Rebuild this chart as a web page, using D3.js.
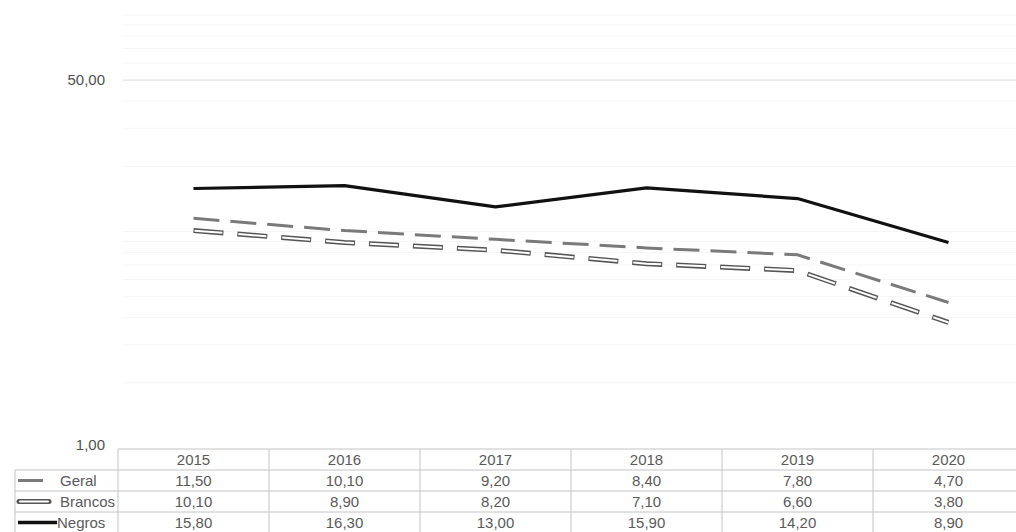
<!DOCTYPE html>
<html>
<head>
<meta charset="utf-8">
<script src="https://cdn.jsdelivr.net/npm/d3@7"></script>
<style>
  body { margin: 0; background: #fff; }
  svg { display: block; font-family: "Liberation Sans", Arial, sans-serif; }
</style>
</head>
<body>
<svg id="chart" width="1016" height="532"></svg>
<script>
const years = ["2015", "2016", "2017", "2018", "2019", "2020"];
const geral = [11.5, 10.1, 9.2, 8.4, 7.8, 4.7];
const brancos = [10.1, 8.9, 8.2, 7.1, 6.6, 3.8];
const negros = [15.8, 16.3, 13.0, 15.9, 14.2, 8.9];
const yTicks = [1, 50];

const series = [
  { name: "Geral", values: geral, type: "dash" },
  { name: "Brancos", values: brancos, type: "double" },
  { name: "Negros", values: negros, type: "solid" }
];

const svg = d3.select("#chart");
const width = 1016;
const fontSize = 15;
const textColor = "#5a5a5a";

const x = d3.scaleBand().domain(years).range([118, 1024]);
const y = d3.scaleLog().domain([1, 100]).range([448, 15]);

const fmt = v => d3.format(".2f")(v).replace(".", ",");

// very faint minor gridlines
const minor = [];
[1, 10].forEach(dec => { for (let k = 2; k <= 10; k++) minor.push(k * dec); });
svg.append("g")
  .selectAll("line")
  .data(minor.filter(v => v !== 50))
  .join("line")
  .attr("x1", 123).attr("x2", width)
  .attr("y1", d => y(d)).attr("y2", d => y(d))
  .attr("stroke", "#f6f6f6")
  .attr("stroke-width", 1);

// main gridline + labels
svg.append("g")
  .selectAll("line")
  .data(yTicks.filter(v => v !== 1))
  .join("line")
  .attr("x1", 123).attr("x2", width)
  .attr("y1", d => y(d)).attr("y2", d => y(d))
  .attr("stroke", "#e2e2e2")
  .attr("stroke-width", 1.2);

svg.append("g")
  .selectAll("text")
  .data(yTicks)
  .join("text")
  .attr("x", 105)
  .attr("y", d => y(d) - (d === 1 ? 3 : 0))
  .attr("dy", "0.35em")
  .attr("text-anchor", "end")
  .attr("font-size", fontSize)
  .attr("fill", "#505050")
  .text(fmt);

// lines
const line = d3.line()
  .x((d, i) => x(years[i]) + x.bandwidth() / 2)
  .y(d => y(d));

series.forEach(s => {
  if (s.type === "solid") {
    svg.append("path").attr("d", line(s.values))
      .attr("fill", "none").attr("stroke", "#111").attr("stroke-width", 3.2)
      .attr("stroke-linejoin", "round");
  } else if (s.type === "dash") {
    svg.append("path").attr("d", line(s.values))
      .attr("fill", "none").attr("stroke", "#7a7a7a").attr("stroke-width", 3)
      .attr("stroke-dasharray", "26 11");
  } else {
    svg.append("path").attr("d", line(s.values))
      .attr("fill", "none").attr("stroke", "#555").attr("stroke-width", 5)
      .attr("stroke-dasharray", "30 14");
    svg.append("path").attr("d", line(s.values))
      .attr("fill", "none").attr("stroke", "#fff").attr("stroke-width", 2)
      .attr("stroke-dasharray", "28 16").attr("stroke-dashoffset", -1);
  }
});

// data table
const tableTop = 449, headH = 21, rowH = 21, left = 15;
const tbl = svg.append("g");
const border = "#c4c4c4";
const tblRight = x.range()[1];

tbl.append("line").attr("x1", 118).attr("x2", tblRight)
  .attr("y1", tableTop).attr("y2", tableTop).attr("stroke", border);
tbl.selectAll(".yr")
  .data(years)
  .join("text")
  .attr("x", d => x(d) + x.bandwidth() / 2)
  .attr("y", tableTop + headH / 2)
  .attr("dy", "0.35em")
  .attr("text-anchor", "middle")
  .attr("font-size", fontSize)
  .attr("fill", textColor)
  .text(d => d);

series.forEach((s, i) => {
  const top = tableTop + headH + i * rowH;
  tbl.append("line").attr("x1", left).attr("x2", tblRight)
    .attr("y1", top).attr("y2", top).attr("stroke", border);
  tbl.selectAll(".v" + i)
    .data(s.values)
    .join("text")
    .attr("x", (d, j) => x(years[j]) + x.bandwidth() / 2)
    .attr("y", top + rowH / 2)
    .attr("dy", "0.35em")
    .attr("text-anchor", "middle")
    .attr("font-size", fontSize)
    .attr("fill", textColor)
    .text(fmt);

  const cy = top + rowH / 2;
  // legend key
  if (s.type === "dash") {
    tbl.append("line").attr("x1", 18).attr("x2", 43).attr("y1", cy).attr("y2", cy)
      .attr("stroke", "#7a7a7a").attr("stroke-width", 3);
  } else if (s.type === "double") {
    tbl.append("line").attr("x1", 19).attr("x2", 49).attr("y1", cy).attr("y2", cy)
      .attr("stroke", "#555").attr("stroke-width", 5).attr("stroke-linecap", "round");
    tbl.append("line").attr("x1", 20).attr("x2", 48).attr("y1", cy).attr("y2", cy)
      .attr("stroke", "#fff").attr("stroke-width", 2).attr("stroke-linecap", "round");
  } else {
    tbl.append("line").attr("x1", 18).attr("x2", 57).attr("y1", cy).attr("y2", cy)
      .attr("stroke", "#111").attr("stroke-width", 3.5);
  }
  tbl.append("text")
    .attr("x", s.type === "solid" ? 57 : 60)
    .attr("y", cy)
    .attr("dy", "0.35em")
    .attr("font-size", fontSize)
    .attr("fill", textColor)
    .text(s.name);
});

const bottom = tableTop + headH + series.length * rowH;
tbl.append("line").attr("x1", left).attr("x2", tblRight)
  .attr("y1", bottom).attr("y2", bottom).attr("stroke", border);

// vertical borders
tbl.append("line").attr("x1", left).attr("x2", left)
  .attr("y1", tableTop + headH).attr("y2", bottom).attr("stroke", border);
tbl.selectAll(".vb")
  .data(years)
  .join("line")
  .attr("x1", d => x(d)).attr("x2", d => x(d))
  .attr("y1", tableTop).attr("y2", bottom)
  .attr("stroke", border);
</script>
</body>
</html>
